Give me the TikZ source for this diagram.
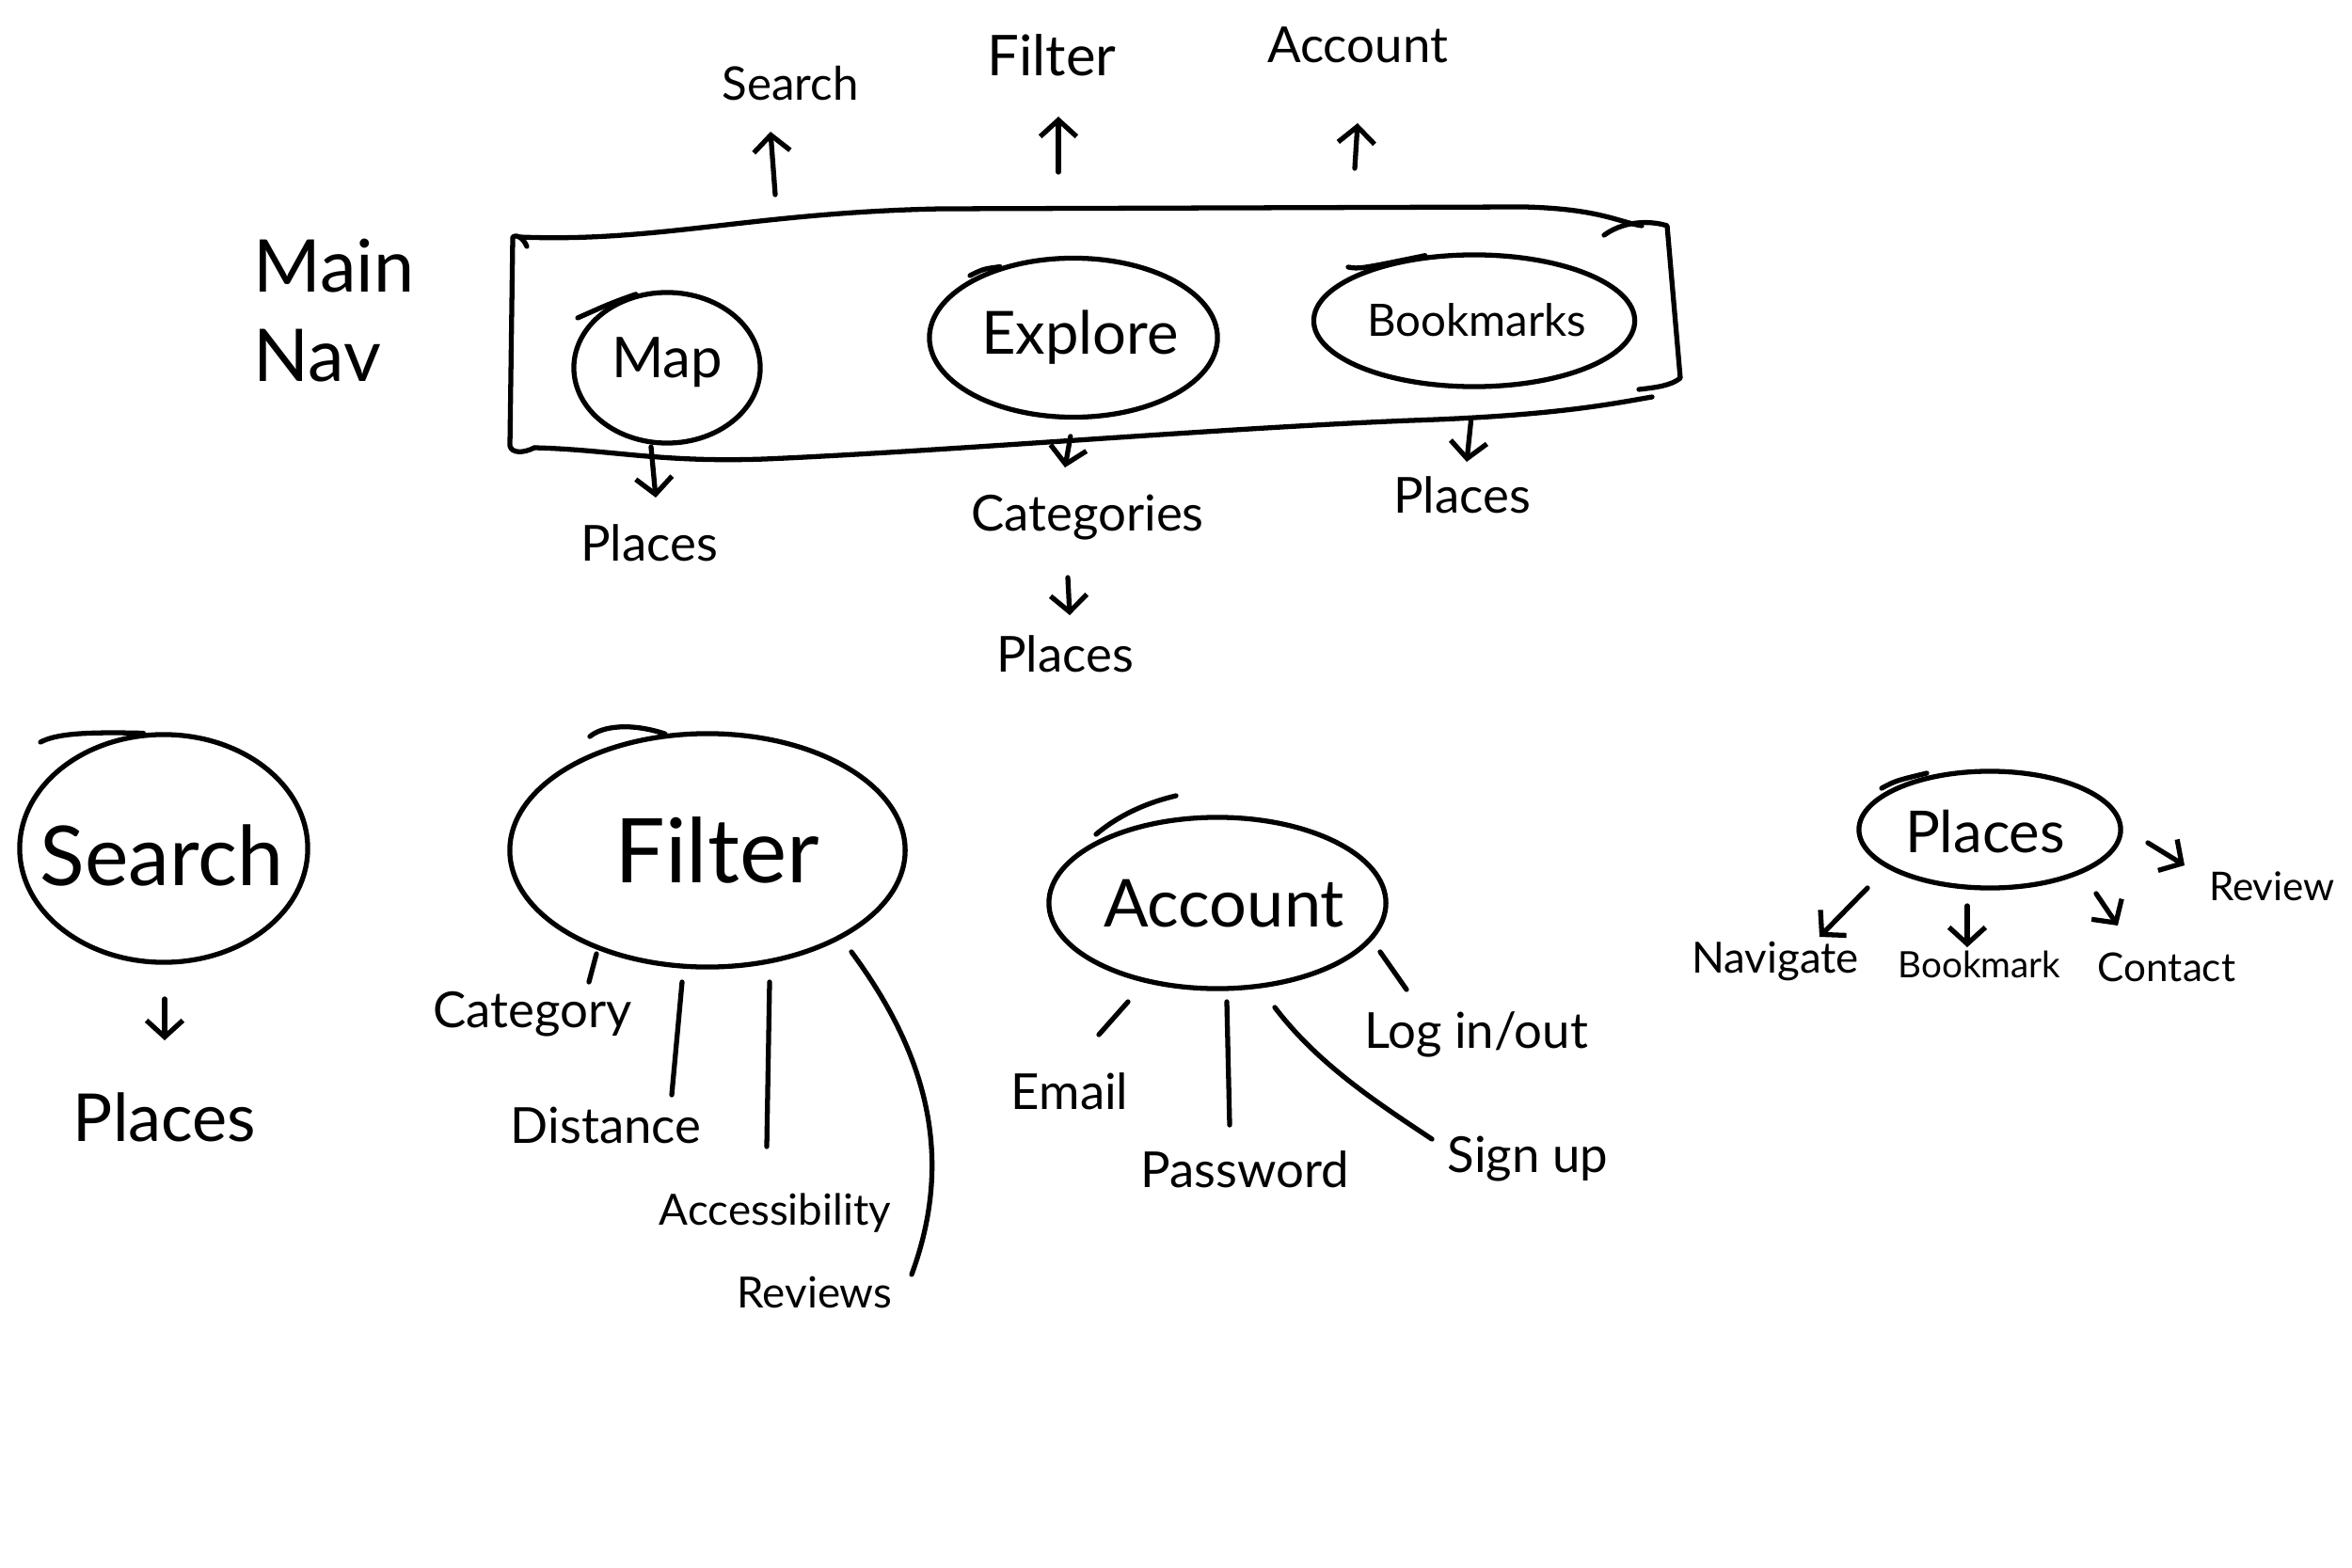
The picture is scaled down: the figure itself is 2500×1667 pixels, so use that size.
\documentclass[tikz,border=0pt]{standalone}
\usepackage{fontspec}
\setmainfont{Lato}
\usetikzlibrary{shapes.geometric,arrows.meta}
\begin{document}
\begin{tikzpicture}[x=0.01cm,y=-0.01cm,
  ln/.style={line width=1.5pt,line cap=round,line join=round},
  arr/.style={ln,-{Straight Barb[length=5pt,width=11pt,line width=1.5pt]}},
  oval/.style={ellipse,draw,line width=1.5pt,inner sep=0pt},
  fs/.style={font=\fontsize{15}{18}\selectfont},
  fxs/.style={font=\fontsize{13}{16}\selectfont},
  lbl/.style={inner sep=0pt}]
\useasboundingbox (0,0) rectangle (2500,1667);

% ---------- main nav ----------
\node[lbl,align=left,font=\fontsize{22}{27}\selectfont] (mainnav) at (355,330) {Main\\Nav};

\draw[ln] (560,262) .. controls (556,252) and (548,249) .. (545,252) -- (542,474)
  .. controls (544,482) and (556,482) .. (568,476);
\draw[ln] (552,252) .. controls (700,258) and (800,226) .. (1000,222) -- (1620,220)
  .. controls (1700,222) and (1720,236) .. (1745,240);
\draw[ln] (1705,250) .. controls (1730,232) and (1760,236) .. (1772,240)
  -- (1786,402) .. controls (1776,410) and (1760,412) .. (1742,414);
\draw[ln] (568,476) .. controls (650,478) and (700,492) .. (813,488)
  .. controls (1000,480) and (1300,455) .. (1500,447)
  .. controls (1650,442) and (1710,430) .. (1756,422);

\node[oval,minimum width=1.98cm,minimum height=1.60cm] (map) at (709,391) {};
\node[lbl,font=\fontsize{17}{20}\selectfont] (mapT) at (709,385) {Map};
\node[oval,minimum width=3.06cm,minimum height=1.69cm] (explore) at (1141,359) {};
\node[lbl,font=\fontsize{18}{22}\selectfont] (exploreT) at (1148,359) {Explore};
\node[oval,minimum width=3.41cm,minimum height=1.40cm] (bookmarks) at (1567,341) {};
\node[lbl,font=\fontsize{13.5}{16}\selectfont] (bookmarksT) at (1570,340) {Bookmarks};
% pen overshoots
\coordinate (mapTail) at (614,338);
\draw[ln] (map.113) .. controls (650,322) .. (mapTail);
\coordinate (expTail) at (1031,293);
\draw[ln] (explore.136) .. controls (1045,286) .. (expTail);
\coordinate (bmTail) at (1433,284);
\draw[ln] (bookmarks.127) .. controls (1445,286) .. (bmTail);

% top labels
\node[lbl,font=\fontsize{14}{17}\selectfont] (searchT) at (840,89) {Search};
\node[lbl,font=\fontsize{17}{20}\selectfont] (filterT) at (1118,59) {Filter};
\node[lbl,fs] (accountT) at (1443,48) {Account};
\coordinate (sT0) at (824,207); \coordinate (sT1) at (819,140);
\coordinate (fT0) at (1125,183); \coordinate (fT1) at (1125,124);
\coordinate (aT0) at (1440,179); \coordinate (aT1) at (1443,131);
\draw[arr] (sT0) -- (sT1);
\draw[arr] (fT0) -- (fT1);
\draw[arr] (aT0) -- (aT1);

% below nav
\node[lbl,fs] (mapP) at (690,577) {Places};
\node[lbl,fs] (cat) at (1156,550) {Categories};
\node[lbl,fs] (catP) at (1132,695) {Places};
\node[lbl,fs] (bmP) at (1554,526) {Places};
\coordinate (mA0) at (692,475); \coordinate (mA) at (697,529);
\coordinate (eA) at (1132,497);
\coordinate (cA0) at (1135,614); \coordinate (cA1) at (1137,654);
\coordinate (bA) at (1559,491);
\draw[arr] (mA0) -- (mA);
\draw[arr,shorten <=0.18cm] (explore.south) -- (eA);
\draw[arr] (cA0) -- (cA1);
\draw[arr,shorten <=0.33cm] (bookmarks.south) -- (bA);

% ---------- Search ----------
\node[oval,minimum width=3.06cm,minimum height=2.42cm] (search) at (174,902) {};
\node[lbl,font=\fontsize{25}{30}\selectfont] (searchL) at (172,909) {Search};
\node[lbl,font=\fontsize{20}{24}\selectfont] (searchP) at (175,1188) {Places};
\coordinate (searchTail) at (43,789);
\draw[ln] (search.100) .. controls (90,778) and (60,780) .. (searchTail);
\coordinate (sA0) at (175,1062); \coordinate (sA1) at (175,1106);
\draw[arr] (sA0) -- (sA1);

% ---------- Filter ----------
\node[oval,minimum width=4.20cm,minimum height=2.48cm] (filter) at (752,904) {};
\node[lbl,font=\fontsize{27}{32}\selectfont] (filterL) at (762,904) {Filter};
\coordinate (filterTail) at (627,783);
\draw[ln] (filter.110) .. controls (670,768) and (640,772) .. (filterTail);
\node[lbl,fs] (fCat) at (566,1078) {Category};
\node[lbl,fs] (fDist) at (644,1196) {Distance};
\node[lbl,fxs] (fAcc) at (824,1290) {Accessibility};
\node[lbl,fxs] (fRev) at (866,1374) {Reviews};
\coordinate (f1a) at (634,1014); \coordinate (f1b) at (626,1044);
\coordinate (f2a) at (725,1044); \coordinate (f2b) at (714,1164);
\coordinate (f3a) at (818,1044); \coordinate (f3b) at (815,1219);
\coordinate (f4a) at (905,1012); \coordinate (f4b) at (969,1355);
\draw[ln] (f1a) -- (f1b);
\draw[ln] (f2a) -- (f2b);
\draw[ln] (f3a) -- (f3b);
\draw[ln] (f4a) .. controls (985,1120) and (1015,1230) .. (f4b);

% ---------- Account ----------
\node[oval,minimum width=3.58cm,minimum height=1.82cm] (account) at (1294,960) {};
\node[lbl,font=\fontsize{20}{24}\selectfont] (accountL) at (1301,961) {Account};
\coordinate (accT0) at (1165,887); \coordinate (accT1) at (1250,846);
\draw[ln] (accT0) .. controls (1190,866) and (1220,853) .. (accT1);
\node[lbl,fs] (aEmail) at (1137,1160) {Email};
\node[lbl,fs] (aPass) at (1323,1243) {Password};
\node[lbl,fs] (aSign) at (1624,1232) {Sign up};
\node[lbl,fs] (aLog) at (1569,1100) {Log in/out};
\coordinate (a1a) at (1199,1065); \coordinate (a1b) at (1168,1100);
\coordinate (a2a) at (1304,1065); \coordinate (a2b) at (1307,1196);
\coordinate (a3a) at (1355,1071); \coordinate (a3b) at (1522,1211);
\coordinate (a4a) at (1467,1012); \coordinate (a4b) at (1495,1052);
\draw[ln] (a1a) -- (a1b);
\draw[ln] (a2a) -- (a2b);
\draw[ln] (a3a) .. controls (1400,1130) and (1460,1170) .. (a3b);
\draw[ln] (a4a) -- (a4b);

% ---------- Places ----------
\node[oval,minimum width=2.78cm,minimum height=1.24cm] (places) at (2115,882) {};
\node[lbl,font=\fontsize{17.5}{21}\selectfont] (placesL) at (2110,884) {Places};
\coordinate (plT0) at (2000,838); \coordinate (plT1) at (2048,822);
\draw[ln] (plT0) .. controls (2015,830) .. (plT1);
\node[lbl,fxs] (pNav) at (1887,1022) {Navigate};
\node[lbl,font=\fontsize{11}{13}\selectfont] (pBm) at (2104,1025) {Bookmark};
\node[lbl,font=\fontsize{12}{14}\selectfont] (pCon) at (2303,1028) {Contact};
\node[lbl,font=\fontsize{12}{14}\selectfont] (pRev) at (2415,942) {Review};
\coordinate (p1a) at (1985,944); \coordinate (p1b) at (1934,996);
\coordinate (p2a) at (2091,963); \coordinate (p2b) at (2091,1007);
\coordinate (p3a) at (2228,950); \coordinate (p3b) at (2251,984);
\coordinate (p4a) at (2283,896); \coordinate (p4b) at (2322,920);
\draw[arr] (p1a) -- (p1b);
\draw[arr] (p2a) -- (p2b);
\draw[arr] (p3a) -- (p3b);
\draw[arr] (p4a) -- (p4b);
\end{tikzpicture}
\end{document}
